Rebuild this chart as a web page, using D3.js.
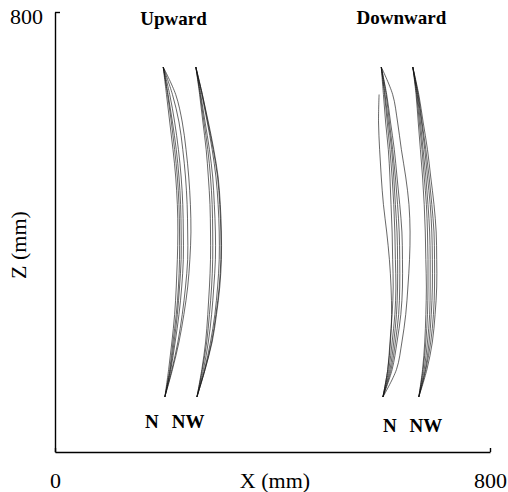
<!DOCTYPE html>
<html>
<head>
<meta charset="utf-8">
<script src="https://cdn.jsdelivr.net/npm/d3@7"></script>
<style>
  body { margin: 0; background: #fff; }
  svg text { font-family: "Liberation Serif", "DejaVu Serif", serif; }
  .axis { font-family: "Liberation Serif", serif; }
  .axis path, .axis line { stroke: #000; stroke-width: 1.4; }
  .axis text { font-size: 22px; fill: #000; }
  .trace { fill: none; stroke: #111; stroke-width: 0.75; stroke-opacity: 0.85; }
  .label { font-weight: bold; font-size: 19px; fill: #000; text-anchor: middle; }
  .tag { font-weight: bold; font-size: 19px; fill: #000; text-anchor: middle; }
</style>
</head>
<body>
<div id="chart"></div>
<script>
// Heights (Z, mm) at which each trace's X position was read
var Z_LEVELS = [100, 150, 200, 250, 300, 350, 400, 450, 500, 550, 600, 650, 700];

// X (mm) of each trace, one value per Z level
var UP_N = [
  [202, 209, 215, 220, 223, 225, 226, 225, 222, 217, 211, 205, 199],
  [202, 211, 217, 223, 227, 229, 229, 228, 225, 220, 214, 207, 199],
  [202, 212, 219, 225, 229, 232, 232, 231, 228, 223, 216, 208, 199],
  [202, 213, 221, 228, 233, 236, 236, 235, 232, 227, 220, 211, 199],
  [202, 215, 226, 234, 240, 244, 244, 243, 240, 235, 228, 216, 199],
  [202, 216, 228, 237, 244, 248, 250, 249, 246, 241, 234, 222, 199]
];
var UP_NW = [
  [261, 270, 277, 281, 284, 286, 286, 285, 282, 278, 272, 266, 259],
  [261, 271, 279, 284, 288, 290, 290, 289, 286, 281, 274, 267, 259],
  [261, 273, 282, 288, 292, 295, 295, 293, 290, 284, 276, 268, 259],
  [261, 275, 286, 294, 299, 302, 302, 300, 296, 289, 280, 270, 259],
  [261, 276, 288, 296, 302, 305, 305, 303, 299, 291, 281, 271, 259],
  [261, 276, 289, 297, 303, 306, 306, 304, 300, 292, 282, 271, 259]
];
var DOWN_N = [
  [603, 612, 616, 620, 622, 621, 620, 618, 616, 613, 608, 604, 600],
  [603, 614, 620, 625, 627, 626, 625, 623, 620, 616, 611, 606, 600],
  [603, 616, 623, 628, 630, 630, 629, 626, 623, 619, 613, 607, 600],
  [603, 618, 626, 632, 634, 634, 633, 630, 626, 621, 615, 609, 600],
  [603, 620, 629, 636, 639, 639, 638, 634, 629, 624, 617, 610, 600],
  [603, 628, 638, 645, 649, 652, 653, 651, 645, 637, 630, 621, 600],
  [603, 612, 617, 619, 618, 615, 610, 604, 600, 597, 595, 596, null]
];
var DOWN_NW = [
  [669, 676, 680, 682, 683, 682, 681, 679, 676, 672, 668, 664, 658],
  [669, 677, 682, 685, 686, 686, 685, 683, 679, 675, 670, 665, 658],
  [669, 679, 685, 689, 690, 690, 689, 686, 682, 677, 672, 666, 658],
  [669, 681, 688, 692, 694, 694, 693, 690, 685, 680, 674, 667, 658],
  [669, 682, 691, 696, 698, 698, 697, 693, 688, 682, 675, 668, 658],
  [669, 684, 694, 699, 702, 702, 701, 697, 691, 685, 677, 669, 658]
];

var X_TICKS = [0, 800];
var Z_TICKS = [800];

// Titles and group tags, placed in data units
var TITLES = [
  { text: "Upward", x: 218, z: 776 },
  { text: "Downward", x: 637, z: 778 }
];
var TAGS = [
  { text: "N", x: 178, z: 44 },
  { text: "NW", x: 245, z: 44 },
  { text: "N", x: 616, z: 37 },
  { text: "NW", x: 682, z: 37 }
];

var width = 508;
var height = 492;

var svg = d3.select("#chart")
  .append("svg")
  .attr("width", width)
  .attr("height", height);

var xScale = d3.scaleLinear().domain([0, 800]).range([55, 490]);
var zScale = d3.scaleLinear().domain([0, 800]).range([452, 12]);

// Axes
var xAxis = d3.axisBottom(xScale)
  .tickValues(X_TICKS)
  .tickSize(-4)
  .tickPadding(20)
  .tickSizeOuter(0)
  .tickFormat(d3.format("d"));

svg.append("g")
  .attr("class", "x axis")
  .attr("transform", "translate(0," + zScale(0) + ")")
  .call(xAxis);

var zAxis = d3.axisLeft(zScale)
  .tickValues(Z_TICKS)
  .tickSize(-5)
  .tickPadding(12)
  .tickSizeOuter(0)
  .tickFormat(d3.format("d"));

svg.append("g")
  .attr("class", "z axis")
  .attr("transform", "translate(" + xScale(0) + ",0)")
  .call(zAxis);

// d3 axes set their own font; use the serif face like the rest
svg.selectAll(".axis").attr("font-family", null).attr("font-size", null);
svg.select(".z.axis .tick text").attr("dy", "0.5em");

// Axis titles
svg.append("text")
  .attr("x", 275)
  .attr("y", 488)
  .attr("text-anchor", "middle")
  .attr("font-size", 22)
  .text("X (mm)");

svg.append("text")
  .attr("transform", "translate(26,245) rotate(-90)")
  .attr("text-anchor", "middle")
  .attr("font-size", 22)
  .text("Z (mm)");

// Traces
var line = d3.line()
  .x(d => xScale(d[1]))
  .y(d => zScale(d[0]))
  .curve(d3.curveCatmullRom.alpha(0.5));

var groups = [UP_N, UP_NW, DOWN_N, DOWN_NW];
var traces = [];
groups.forEach(function(g) {
  g.forEach(function(row) {
    traces.push(Z_LEVELS.map((z, i) => [z, row[i]]).filter(p => p[1] != null));
  });
});

svg.append("g")
  .selectAll("path")
  .data(traces)
  .enter()
  .append("path")
  .attr("class", "trace")
  .attr("d", line);

// Labels
svg.append("g")
  .selectAll("text")
  .data(TITLES)
  .enter()
  .append("text")
  .attr("class", "label")
  .attr("x", d => xScale(d.x))
  .attr("y", d => zScale(d.z))
  .text(d => d.text);

svg.append("g")
  .selectAll("text")
  .data(TAGS)
  .enter()
  .append("text")
  .attr("class", "tag")
  .attr("x", d => xScale(d.x))
  .attr("y", d => zScale(d.z))
  .text(d => d.text);
</script>
</body>
</html>
